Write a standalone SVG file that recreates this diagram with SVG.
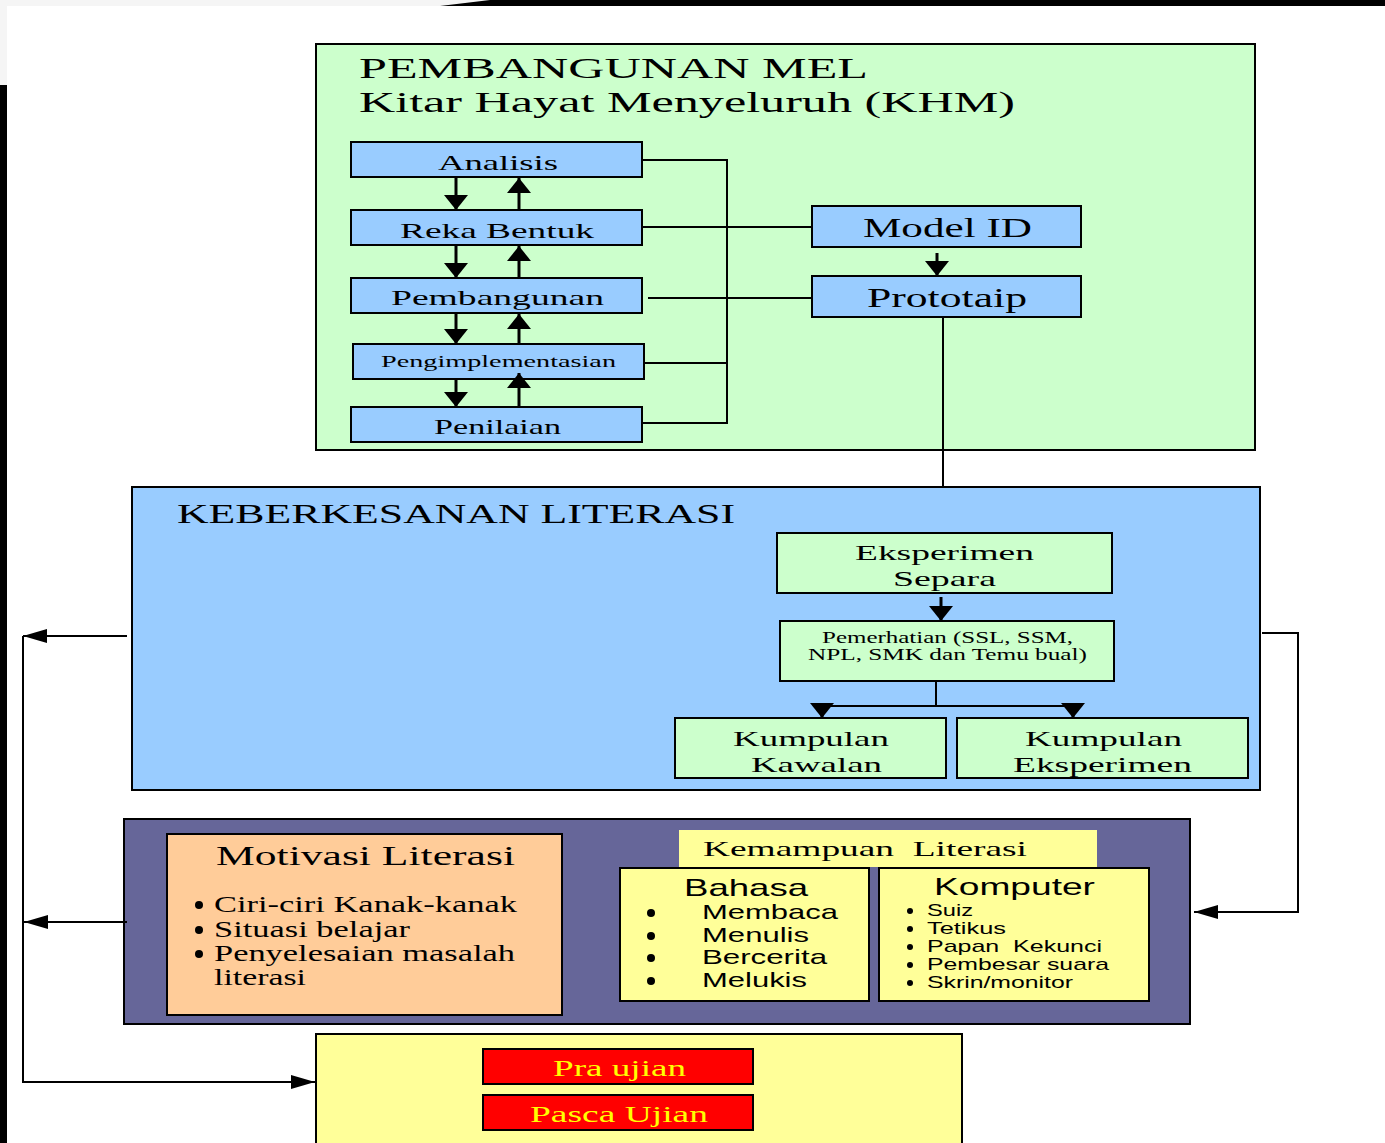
<svg xmlns="http://www.w3.org/2000/svg" width="1385" height="1143" viewBox="0 0 1385 1143">
<style>
.s{font-family:"Liberation Serif","Times New Roman",serif;fill:#000}
.a{font-family:"Liberation Sans",Arial,sans-serif;fill:#000}
.box{stroke:#000;stroke-width:2}
.ln{fill:none;stroke:#000;stroke-width:2}
.lt{fill:none;stroke:#000;stroke-width:3}
</style>
<defs>
<marker id="big" viewBox="0 0 10 10" refX="10" refY="5" markerUnits="userSpaceOnUse" markerWidth="15" markerHeight="24" orient="auto" preserveAspectRatio="none"><path d="M0,0 L10,5 L0,10 z" fill="#000"/></marker>
<marker id="thin" viewBox="0 0 10 10" refX="10" refY="5" markerUnits="userSpaceOnUse" markerWidth="24" markerHeight="14" orient="auto" preserveAspectRatio="none"><path d="M0,0 L10,5 L0,10 z" fill="#000"/></marker>
</defs>
<rect width="1385" height="1143" fill="#fff"/>
<rect x="0" y="0" width="1385" height="6" fill="#f5f5f5"/>
<rect x="0" y="0" width="7" height="85" fill="#f5f5f5"/>
<polygon points="440,6 490,0 1385,0 1385,6" fill="#000"/>
<rect x="0" y="85" width="7" height="1058" fill="#000"/>

<g id="khm">
<rect class="box" x="316" y="44" width="939" height="406" fill="#ccffcc"/>
<text class="s" x="359" y="78" font-size="30" textLength="509" lengthAdjust="spacingAndGlyphs">PEMBANGUNAN MEL</text>
<text class="s" x="359" y="112" font-size="30" textLength="656" lengthAdjust="spacingAndGlyphs">Kitar Hayat Menyeluruh (KHM)</text>
</g>
<g id="analisis"><rect class="box" x="351" y="142" width="291" height="35" fill="#99ccff"/><text class="s" x="438" y="170" font-size="22" textLength="120" lengthAdjust="spacingAndGlyphs">Analisis</text></g>
<g id="reka"><rect class="box" x="351" y="210" width="291" height="35" fill="#99ccff"/><text class="s" x="400" y="238" font-size="22" textLength="194" lengthAdjust="spacingAndGlyphs">Reka Bentuk</text></g>
<g id="pembangunan"><rect class="box" x="351" y="278" width="291" height="35" fill="#99ccff"/><text class="s" x="391" y="305" font-size="22" textLength="213" lengthAdjust="spacingAndGlyphs">Pembangunan</text></g>
<g id="pengimplementasian"><rect class="box" x="353" y="344" width="291" height="35" fill="#99ccff"/><text class="s" x="381" y="367" font-size="17" textLength="235" lengthAdjust="spacingAndGlyphs">Pengimplementasian</text></g>
<g id="penilaian"><rect class="box" x="351" y="407" width="291" height="35" fill="#99ccff"/><text class="s" x="434" y="434" font-size="22" textLength="127" lengthAdjust="spacingAndGlyphs">Penilaian</text></g>
<g id="model"><rect class="box" x="812" y="206" width="269" height="41" fill="#99ccff"/><text class="s" x="863" y="237" font-size="28" textLength="169" lengthAdjust="spacingAndGlyphs">Model ID</text></g>
<g id="prototaip"><rect class="box" x="812" y="276" width="269" height="41" fill="#99ccff"/><text class="s" x="867" y="307" font-size="28" textLength="160" lengthAdjust="spacingAndGlyphs">Prototaip</text></g>

<g id="literasi">
<rect class="box" x="132" y="487" width="1128" height="303" fill="#99ccff"/>
<text class="s" x="177" y="523" font-size="27" textLength="558" lengthAdjust="spacingAndGlyphs">KEBERKESANAN LITERASI</text>
</g>
<g id="eksperimen-separa"><rect class="box" x="777" y="533" width="335" height="60" fill="#ccffcc"/>
<text class="s" x="855" y="560" font-size="22" textLength="179" lengthAdjust="spacingAndGlyphs">Eksperimen</text>
<text class="s" x="893" y="586" font-size="22" textLength="103" lengthAdjust="spacingAndGlyphs">Separa</text></g>
<g id="pemerhatian"><rect class="box" x="780" y="621" width="334" height="60" fill="#ccffcc"/>
<text class="s" x="822" y="643" font-size="16" textLength="251" lengthAdjust="spacingAndGlyphs">Pemerhatian (SSL, SSM,</text>
<text class="s" x="808" y="660" font-size="16" textLength="279" lengthAdjust="spacingAndGlyphs">NPL, SMK dan Temu bual)</text></g>
<g id="kawalan"><rect class="box" x="675" y="718" width="271" height="60" fill="#ccffcc"/>
<text class="s" x="733" y="746" font-size="22" textLength="156" lengthAdjust="spacingAndGlyphs">Kumpulan</text>
<text class="s" x="751" y="772" font-size="22" textLength="131" lengthAdjust="spacingAndGlyphs">Kawalan</text></g>
<g id="kumpulan-eksperimen"><rect class="box" x="957" y="718" width="291" height="60" fill="#ccffcc"/>
<text class="s" x="1025" y="746" font-size="22" textLength="157" lengthAdjust="spacingAndGlyphs">Kumpulan</text>
<text class="s" x="1013" y="772" font-size="22" textLength="179" lengthAdjust="spacingAndGlyphs">Eksperimen</text></g>

<g id="faktor"><rect class="box" x="124" y="819" width="1066" height="205" fill="#666699"/></g>
<g id="motivasi"><rect class="box" x="167" y="834" width="395" height="181" fill="#ffcc99"/>
<text class="s" x="216" y="865" font-size="27" textLength="299" lengthAdjust="spacingAndGlyphs">Motivasi Literasi</text>
<circle cx="199" cy="905" r="4"/><circle cx="199" cy="930" r="4"/><circle cx="199" cy="954" r="4"/>
<text class="s" x="214" y="912" font-size="23" textLength="303" lengthAdjust="spacingAndGlyphs">Ciri-ciri Kanak-kanak</text>
<text class="s" x="214" y="937" font-size="23" textLength="196" lengthAdjust="spacingAndGlyphs">Situasi belajar</text>
<text class="s" x="214" y="961" font-size="23" textLength="301" lengthAdjust="spacingAndGlyphs">Penyelesaian masalah</text>
<text class="s" x="214" y="985" font-size="23" textLength="92" lengthAdjust="spacingAndGlyphs">literasi</text></g>
<g id="kemampuan"><rect x="679" y="830" width="418" height="37" fill="#ffff99"/>
<text class="s" x="703" y="856" font-size="22" textLength="324" lengthAdjust="spacingAndGlyphs" xml:space="preserve">Kemampuan  Literasi</text></g>
<g id="bahasa"><rect class="box" x="620" y="868" width="249" height="133" fill="#ffff99"/>
<text class="a" x="684" y="896" font-size="24" textLength="124" lengthAdjust="spacingAndGlyphs">Bahasa</text>
<circle cx="651" cy="913" r="4"/><circle cx="651" cy="936" r="4"/><circle cx="651" cy="958" r="4"/><circle cx="651" cy="981" r="4"/>
<text class="a" x="702" y="919" font-size="21" textLength="136" lengthAdjust="spacingAndGlyphs">Membaca</text>
<text class="a" x="702" y="942" font-size="21" textLength="107" lengthAdjust="spacingAndGlyphs">Menulis</text>
<text class="a" x="702" y="964" font-size="21" textLength="125" lengthAdjust="spacingAndGlyphs">Bercerita</text>
<text class="a" x="702" y="987" font-size="21" textLength="105" lengthAdjust="spacingAndGlyphs">Melukis</text></g>
<g id="komputer"><rect class="box" x="879" y="868" width="270" height="133" fill="#ffff99"/>
<text class="a" x="934" y="895" font-size="24" textLength="161" lengthAdjust="spacingAndGlyphs">Komputer</text>
<circle cx="910" cy="911" r="3"/><circle cx="910" cy="929" r="3"/><circle cx="910" cy="947" r="3"/><circle cx="910" cy="965" r="3"/><circle cx="910" cy="983" r="3"/>
<text class="a" x="927" y="916" font-size="17" textLength="46" lengthAdjust="spacingAndGlyphs">Suiz</text>
<text class="a" x="927" y="934" font-size="17" textLength="79" lengthAdjust="spacingAndGlyphs">Tetikus</text>
<text class="a" x="927" y="952" font-size="17" textLength="175" lengthAdjust="spacingAndGlyphs" xml:space="preserve">Papan  Kekunci</text>
<text class="a" x="927" y="970" font-size="17" textLength="182" lengthAdjust="spacingAndGlyphs">Pembesar suara</text>
<text class="a" x="927" y="988" font-size="17" textLength="146" lengthAdjust="spacingAndGlyphs">Skrin/monitor</text></g>

<g id="ujian"><rect class="box" x="316" y="1034" width="646" height="115" fill="#ffff99"/></g>
<g id="pra"><rect class="box" x="483" y="1049" width="270" height="35" fill="#ff0000"/>
<text class="s" x="553" y="1076" font-size="24" fill="#ffff00" style="fill:#ffff00" textLength="133" lengthAdjust="spacingAndGlyphs">Pra ujian</text></g>
<g id="pasca"><rect class="box" x="483" y="1095" width="270" height="35" fill="#ff0000"/>
<text class="s" x="530" y="1122" font-size="24" style="fill:#ffff00" textLength="178" lengthAdjust="spacingAndGlyphs">Pasca Ujian</text></g>

<g id="connectors">
<line class="lt" x1="456" y1="177" x2="456" y2="210" marker-end="url(#big)"/>
<line class="lt" x1="456" y1="245" x2="456" y2="278" marker-end="url(#big)"/>
<line class="lt" x1="456" y1="313" x2="456" y2="344" marker-end="url(#big)"/>
<line class="lt" x1="456" y1="379" x2="456" y2="407" marker-end="url(#big)"/>
<line class="lt" x1="519" y1="210" x2="519" y2="178" marker-end="url(#big)"/>
<line class="lt" x1="519" y1="278" x2="519" y2="246" marker-end="url(#big)"/>
<line class="lt" x1="519" y1="344" x2="519" y2="314" marker-end="url(#big)"/>
<line class="lt" x1="519" y1="406" x2="519" y2="373" marker-end="url(#big)"/>
<path class="ln" d="M642,160 H727 V423 H642"/>
<path class="ln" d="M642,227 H812"/>
<path class="ln" d="M648,298 H812"/>
<path class="ln" d="M644,363 H727"/>
<line class="lt" x1="937" y1="253" x2="937" y2="276" marker-end="url(#big)"/>
<path class="ln" d="M943,317 V487"/>
<line class="lt" x1="941" y1="597" x2="941" y2="621" marker-end="url(#big)"/>
<path class="ln" d="M936,681 V706"/>
<path class="ln" d="M822,706 H1073"/>
<line class="lt" x1="822" y1="704" x2="822" y2="718" marker-end="url(#big)"/>
<line class="lt" x1="1073" y1="704" x2="1073" y2="718" marker-end="url(#big)"/>
<path class="ln" d="M1262,633 H1298 V912 H1194" marker-end="url(#thin)"/>
<path class="ln" d="M127,636 H23" marker-end="url(#thin)"/>
<path class="ln" d="M127,922 H24" marker-end="url(#thin)"/>
<path class="ln" d="M23,636 V1082 H315" marker-end="url(#thin)"/>
</g>
</svg>
